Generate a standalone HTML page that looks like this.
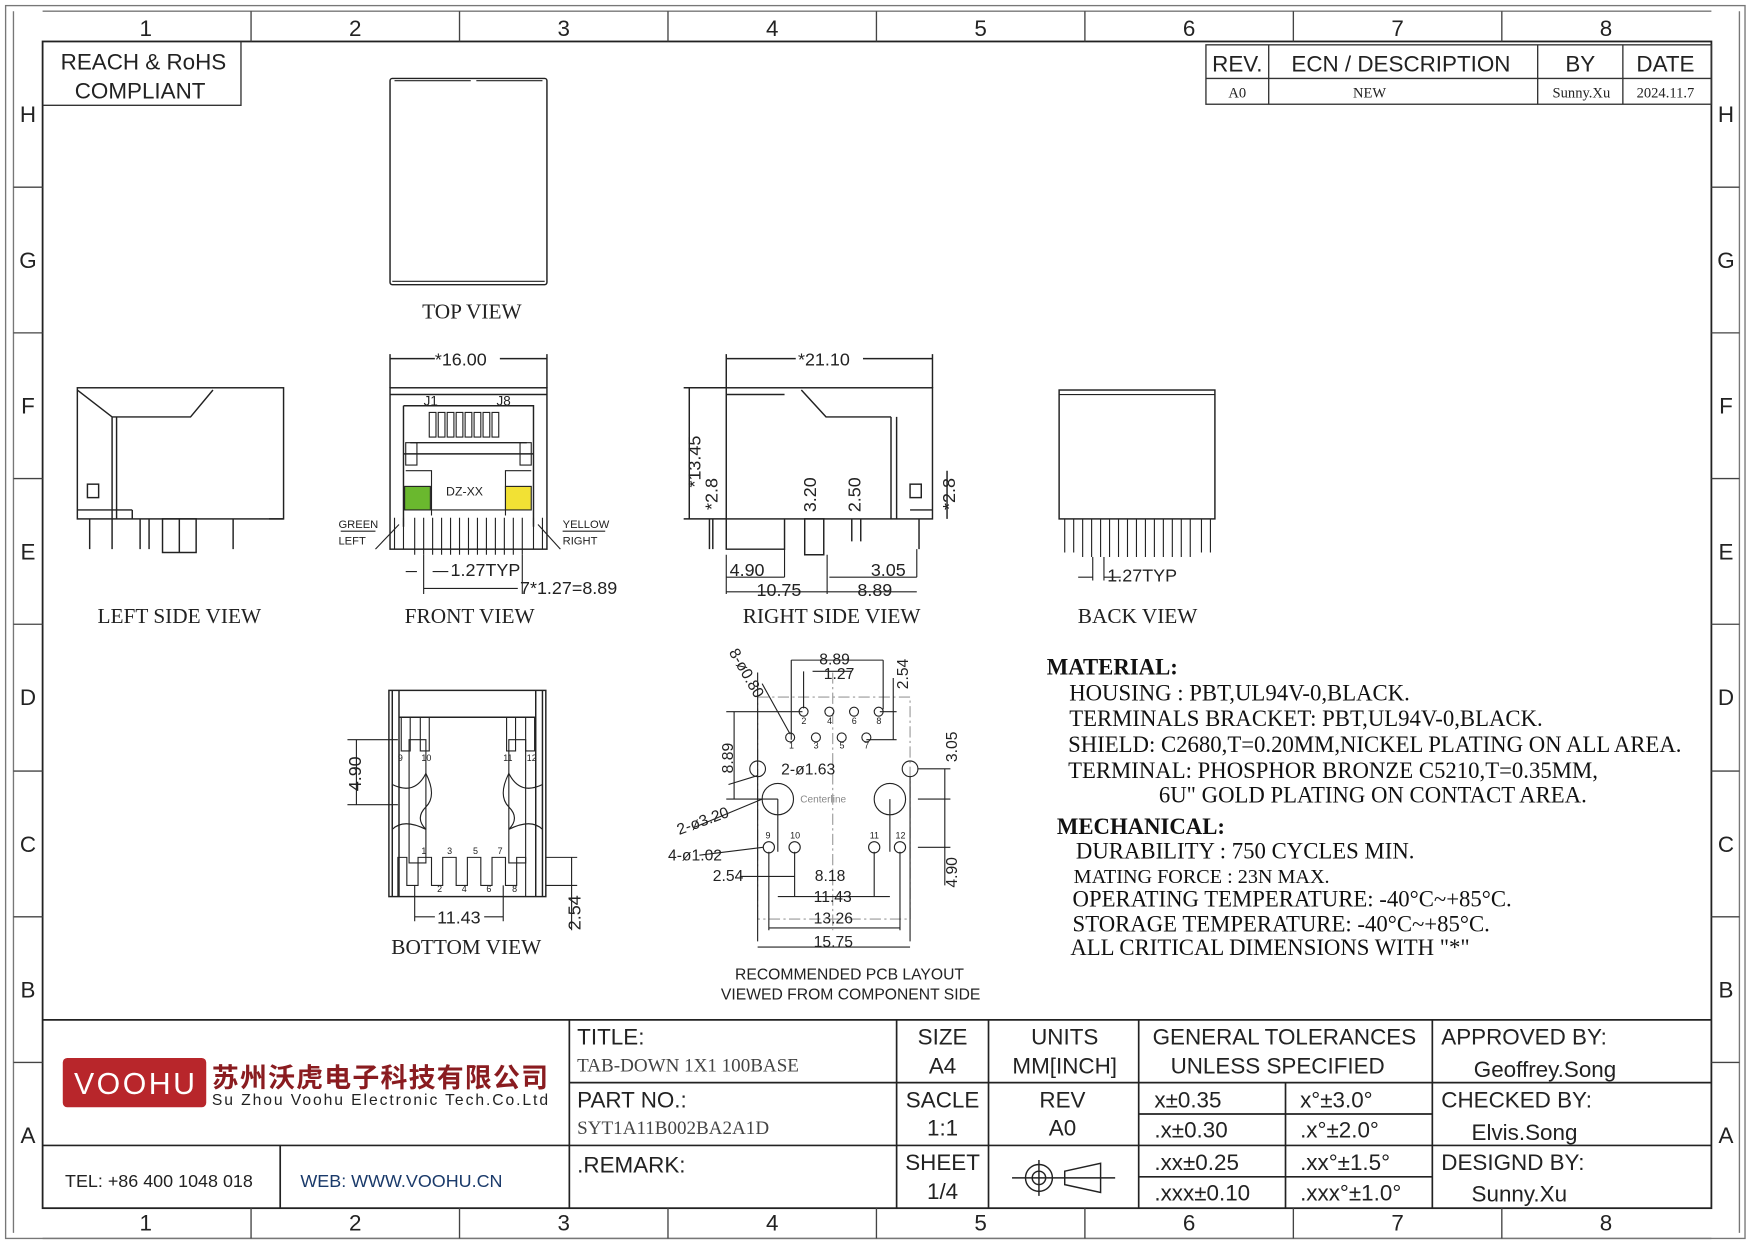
<!DOCTYPE html>
<html><head><meta charset="utf-8"><style>
html,body{margin:0;padding:0;background:#fff}
svg{display:block}
.s{font-family:"Liberation Sans",sans-serif}
.r{font-family:"Liberation Serif",serif}
.c{font-family:"Liberation Sans","Noto Sans CJK SC",sans-serif}
</style></head><body>
<svg width="1754" height="1240" viewBox="0 0 1565 1106.4" xmlns="http://www.w3.org/2000/svg">
<g fill="none" stroke="#333" stroke-width="1.2">
<rect x="5" y="5" width="1552" height="1100" stroke="#777"/>
<rect x="38" y="37" width="1489" height="1041" stroke-width="1.6" stroke="#222"/>
<line x1="38" y1="10" x2="1527" y2="10" stroke="#777"/>
<line x1="12" y1="10" x2="12" y2="1100" stroke="#777"/>
<line x1="1552" y1="10" x2="1552" y2="1100" stroke="#777"/>
<line x1="38" y1="1105" x2="1527" y2="1105" stroke="#777"/>
<g stroke="#444">
<line x1="224" y1="10" x2="224" y2="37"/><line x1="410" y1="10" x2="410" y2="37"/><line x1="596" y1="10" x2="596" y2="37"/><line x1="782" y1="10" x2="782" y2="37"/><line x1="968" y1="10" x2="968" y2="37"/><line x1="1154" y1="10" x2="1154" y2="37"/><line x1="1340" y1="10" x2="1340" y2="37"/>
<line x1="224" y1="1078" x2="224" y2="1105"/><line x1="410" y1="1078" x2="410" y2="1105"/><line x1="596" y1="1078" x2="596" y2="1105"/><line x1="782" y1="1078" x2="782" y2="1105"/><line x1="968" y1="1078" x2="968" y2="1105"/><line x1="1154" y1="1078" x2="1154" y2="1105"/><line x1="1340" y1="1078" x2="1340" y2="1105"/>
<path d="M12 167H38M12 297H38M12 427H38M12 557H38M12 688H38M12 818H38M12 948H38M1527 167H1552M1527 297H1552M1527 427H1552M1527 557H1552M1527 688H1552M1527 818H1552M1527 948H1552"/>
</g>
<path d="M215 37V94H38"/>
<rect x="1076" y="40" width="451" height="53"/>
<path d="M1076 70H1527M1132 40V93M1372 40V93M1448 40V93"/>
<path d="M38 910H1527M508 966H1527M38 1022H1527M508 910V1078M800 910V1078M882 910V1078M1016 910V1078M1278 910V1078M1147 966V1078M1016 994H1278M1016 1050H1278M250 1022V1078" stroke-width="1.5" stroke="#222"/>
</g>
<g class="s" font-size="20" fill="#222" text-anchor="middle">
<text x="130" y="32">1</text><text x="317" y="32">2</text><text x="503" y="32">3</text><text x="689" y="32">4</text><text x="875" y="32">5</text><text x="1061" y="32">6</text><text x="1247" y="32">7</text><text x="1433" y="32">8</text>
<text x="130" y="1098">1</text><text x="317" y="1098">2</text><text x="503" y="1098">3</text><text x="689" y="1098">4</text><text x="875" y="1098">5</text><text x="1061" y="1098">6</text><text x="1247" y="1098">7</text><text x="1433" y="1098">8</text>
<text x="25" y="109">H</text><text x="25" y="239">G</text><text x="25" y="369">F</text><text x="25" y="499">E</text><text x="25" y="629">D</text><text x="25" y="760">C</text><text x="25" y="890">B</text><text x="25" y="1020">A</text>
<text x="1540" y="109">H</text><text x="1540" y="239">G</text><text x="1540" y="369">F</text><text x="1540" y="499">E</text><text x="1540" y="629">D</text><text x="1540" y="760">C</text><text x="1540" y="890">B</text><text x="1540" y="1020">A</text>
<text x="128" y="62">REACH &amp; RoHS</text><text x="125" y="88">COMPLIANT</text>
<text x="1104" y="64">REV.</text><text x="1250" y="64">ECN / DESCRIPTION</text><text x="1410" y="64">BY</text><text x="1486" y="64">DATE</text>
</g>
<g class="r" font-size="13" fill="#222" text-anchor="middle">
<text x="1104" y="87">A0</text><text x="1222" y="87">NEW</text><text x="1411" y="87">Sunny.Xu</text><text x="1486" y="87">2024.11.7</text>
</g>
<g class="s" font-size="20" fill="#222">
<text x="515" y="932">TITLE:</text>
<text x="515" y="988">PART NO.:</text>
<text x="515" y="1046">.REMARK:</text>
<g text-anchor="middle">
<text x="841" y="932">SIZE</text><text x="841" y="958">A4</text>
<text x="841" y="988">SACLE</text><text x="841" y="1013">1:1</text>
<text x="841" y="1044">SHEET</text><text x="841" y="1070">1/4</text>
<text x="950" y="932">UNITS</text><text x="950" y="958">MM[INCH]</text>
<text x="948" y="988">REV</text><text x="948" y="1013">A0</text>
<text x="1146" y="932">GENERAL TOLERANCES</text><text x="1140" y="958">UNLESS SPECIFIED</text>
</g>
<text x="1030" y="988">x±0.35</text><text x="1160" y="988">x°±3.0°</text>
<text x="1030" y="1015">.x±0.30</text><text x="1160" y="1015">.x°±2.0°</text>
<text x="1030" y="1044">.xx±0.25</text><text x="1160" y="1044">.xx°±1.5°</text>
<text x="1030" y="1071">.xxx±0.10</text><text x="1160" y="1071">.xxx°±1.0°</text>
<text x="1286" y="932">APPROVED BY:</text><text x="1315" y="961">Geoffrey.Song</text>
<text x="1286" y="988">CHECKED BY:</text><text x="1313" y="1017">Elvis.Song</text>
<text x="1286" y="1044">DESIGND BY:</text><text x="1313" y="1072">Sunny.Xu</text>
</g>
<g class="r" font-size="17" fill="#444"><text x="515" y="956">TAB-DOWN 1X1 100BASE</text><text x="515" y="1012">SYT1A11B002BA2A1D</text></g>
<g class="s" font-size="16"><text x="58" y="1059" fill="#222">TEL: +86 400 1048 018</text><text x="268" y="1059" fill="#1a3a6a">WEB: WWW.VOOHU.CN</text></g>
<rect x="56" y="944" width="128" height="44" rx="4" fill="#b8262b"/>
<text x="120" y="976" class="s" font-size="27" fill="#fff" text-anchor="middle" textLength="108">VOOHU</text>
<text x="189" y="970" class="c" font-size="24" font-weight="bold" fill="#8a1c20" textLength="300">苏州沃虎电子科技有限公司</text>
<text x="189" y="986" class="s" font-size="14" fill="#222" textLength="300">Su Zhou Voohu Electronic Tech.Co.Ltd</text>
<g fill="none" stroke="#222" stroke-width="1.3"><circle cx="927" cy="1051" r="12"/><circle cx="927" cy="1051" r="6"/><path d="M903 1051H995M927 1035V1067M950 1045L982 1038V1064L950 1057Z"/></g>

<g fill="none" stroke="#222" stroke-width="1.3">
<rect x="348" y="70" width="140" height="184" rx="2"/>
<path d="M352 72H420M425 72H484M350 251H486" stroke-width="1"/>
<rect x="69" y="346" width="184" height="117"/>
<path d="M69 348L100 372H170L190 348M100 372V463M104 372V463M69 455H118M118 455V463"/>
<rect x="78" y="432" width="10" height="12"/>
<path d="M80 463V490M100 463V490M125 463V490M133 463V490M208 463V490M145 463H175V493H145ZM160 463V493M240 463H253"/>
<path d="M348 316V346M488 316V346M348 320H388M446 320H488"/>
<rect x="348" y="346" width="140" height="144"/>
<path d="M348 352H488M360 362H476V470M360 362V470M360 405H476M366 395H470"/>
<g stroke-width="1"><path d="M383 368h6v22h-6zM391 368h6v22h-6zM399 368h6v22h-6zM407 368h6v22h-6zM415 368h6v22h-6zM423 368h6v22h-6zM431 368h6v22h-6zM439 368h6v22h-6z"/>
<path d="M362 395h10v20h-10zM464 395h10v20h-10zM362 420H385V460M474 420H451V460M385 455H451"/>
<path d="M352 462V490M360 462V490M370 462V495M378 462V495M386 462V495M394 462V495M402 462V495M410 462V495M418 462V495M426 462V495M434 462V495M442 462V495M450 462V495M458 462V495M466 462V495M476 462V490M484 462V490"/>
<path d="M356 468L335 490M480 468L500 490M304 474H335M502 474H540"/>
<path d="M378 495V530M466 495V530M386 510H400M378 525H462M362 510H372"/></g>
<path d="M648 316V346M832 316V346M648 320H710M770 320H832"/>
<rect x="648" y="346" width="184" height="117"/>
<path d="M648 352H700M715 348L737 372H795M795 372V463M800 372V463M812 455H832"/>
<rect x="812" y="432" width="10" height="12"/>
<path d="M648 463V490H700V463M718 463H735V495H718ZM760 463V483M768 463V483M820 463V490M610 346H648M610 463H648M615 346V463M633 463V490M636 463V490M845 420V463"/>
<path d="M648 495V530M700 490V515M738 495V530M818 490V515M648 515H700M740 515H818M648 528H740M740 528H818" stroke-width="1"/>
<rect x="945" y="348" width="139" height="115"/>
<path d="M945 352H1084M950 463V493M958 463V493M966 463V497M974 463V497M982 463V497M990 463V497M998 463V497M1006 463V497M1014 463V497M1022 463V497M1030 463V497M1038 463V497M1046 463V497M1054 463V497M1062 463V497M1072 463V493M1080 463V493M962 515H975M985 515H1000M975 497V518M985 497V518" stroke-width="1"/>
<rect x="347" y="616" width="140" height="184"/>
<path d="M350 616V800M484 616V800M356 640H478M356 616V800M478 616V800"/>
<path d="M358 640V670h8V640M375 640V670h8V640M452 640V670h8V640M469 640V670h8V640" stroke-width="1"/>
<path d="M365 660H380V770H365ZM454 660H469V770H454Z" stroke-width="1"/>
<path d="M350 700Q370 710 380 690Q390 710 380 720Q370 730 380 740Q360 730 350 740ZM484 700Q464 710 454 690Q444 710 454 720Q464 730 454 740Q474 730 484 740Z" stroke-width="1"/>
<path d="M355 800V765h8V790h10V765h12V790h10V765h12V790h10V765h12V790h10V765h12V790h10V765h8V800" stroke-width="1"/>
<path d="M310 660H355M310 718H355M318 660V718M487 765H515M487 790H515M510 765V830M370 790V822M449 790V822M370 818H388M432 818H449" stroke-width="1"/>
<rect x="676" y="622" width="136" height="198" stroke="#999" stroke-dasharray="10 3 2 3" stroke-width="1"/>
<line x1="743" y1="600" x2="743" y2="830" stroke="#999" stroke-dasharray="10 3 2 3" stroke-width="1"/>
<g stroke-width="1"><circle cx="705" cy="658" r="4"/><circle cx="717" cy="635" r="4"/><circle cx="728" cy="658" r="4"/><circle cx="740" cy="635" r="4"/><circle cx="751" cy="658" r="4"/><circle cx="762" cy="635" r="4"/><circle cx="773" cy="658" r="4"/><circle cx="784" cy="635" r="4"/>
<circle cx="676" cy="686" r="7"/><circle cx="812" cy="686" r="7"/>
<circle cx="694" cy="713" r="14"/><circle cx="794" cy="713" r="14"/>
<circle cx="686" cy="756" r="5"/><circle cx="709" cy="756" r="5"/><circle cx="780" cy="756" r="5"/><circle cx="803" cy="756" r="5"/>
<path d="M706 589H788M706 589V660M788 589V633M717 599V632M725 599H760M785 635H800M773 660H800M797 605V660M676 600V840M812 693V840M648 635H716M648 713H694M655 635V713M819 686H848M819 713H848M819 756H848M843 686V756M843 710V790M694 713V760M794 713V760M686 760V830M803 760V830M709 760V800M780 760V800M650 700L676 692M620 738L680 713M624 763L681 756M660 782H709M709 800H780M694 800H794M686 828H803M676 845H812M680 610L705 655"/></g>
</g>
<rect x="361" y="434" width="23" height="21" fill="#6ab82e" stroke="#222"/>
<rect x="451" y="434" width="23" height="21" fill="#f2e134" stroke="#222"/>
<g class="r" font-size="19" fill="#222" text-anchor="middle">
<text x="421" y="284">TOP VIEW</text><text x="160" y="556">LEFT SIDE VIEW</text><text x="419" y="556">FRONT VIEW</text><text x="742" y="556">RIGHT SIDE VIEW</text><text x="1015" y="556">BACK VIEW</text><text x="416" y="851">BOTTOM VIEW</text>
</g>
<g class="s" font-size="14" fill="#222">
<text x="388" y="326" font-size="16">*16.00</text><text x="712" y="326" font-size="16">*21.10</text>
<text x="378" y="362" font-size="12">J1</text><text x="443" y="362" font-size="12">J8</text><text x="398" y="442" font-size="11">DZ-XX</text>
<text x="302" y="471" font-size="10">GREEN</text><text x="302" y="486" font-size="10">LEFT</text><text x="502" y="471" font-size="10">YELLOW</text><text x="502" y="486" font-size="10">RIGHT</text>
<text x="402" y="514" font-size="16">1.27TYP</text><text x="464" y="530" font-size="16">7*1.27=8.89</text>
<text x="651" y="514" font-size="16">4.90</text><text x="777" y="514" font-size="16">3.05</text><text x="675" y="532" font-size="16">10.75</text><text x="765" y="532" font-size="16">8.89</text>
<text x="988" y="519" font-size="16">1.27TYP</text>
<text transform="translate(625,435) rotate(-90)" font-size="16">*13.45</text>
<text transform="translate(640,455) rotate(-90)" font-size="16">*2.8</text>
<text transform="translate(852,455) rotate(-90)" font-size="16">*2.8</text>
<text transform="translate(728,457) rotate(-90)" font-size="16">3.20</text>
<text transform="translate(768,457) rotate(-90)" font-size="16">2.50</text>
<text transform="translate(322,706) rotate(-90)" font-size="16">4.90</text>
<text transform="translate(518,830) rotate(-90)" font-size="16">2.54</text>
<text x="390" y="824" font-size="16">11.43</text>
<g font-size="8"><text x="355" y="679">9</text><text x="376" y="679">10</text><text x="449" y="679">11</text><text x="470" y="679">12</text><text x="376" y="762">1</text><text x="399" y="762">3</text><text x="422" y="762">5</text><text x="444" y="762">7</text><text x="390" y="796">2</text><text x="412" y="796">4</text><text x="434" y="796">6</text><text x="457" y="796">8</text>
<text x="715" y="646">2</text><text x="738" y="646">4</text><text x="760" y="646">6</text><text x="782" y="646">8</text><text x="704" y="668">1</text><text x="726" y="668">3</text><text x="749" y="668">5</text><text x="771" y="668">7</text>
<text x="683" y="748">9</text><text x="705" y="748">10</text><text x="776" y="748">11</text><text x="799" y="748">12</text></g>
<text x="731" y="593">8.89</text><text x="735" y="606">1.27</text>
<text transform="translate(650,582) rotate(60)">8-ø0.80</text>
<text transform="translate(810,615) rotate(-90)">2.54</text>
<text transform="translate(654,690) rotate(-90)">8.89</text>
<text transform="translate(854,680) rotate(-90)">3.05</text>
<text transform="translate(854,792) rotate(-90)">4.90</text>
<text x="697" y="691">2-ø1.63</text>
<text x="714" y="716" font-size="9" fill="#888">Centerline</text>
<text transform="translate(606,745) rotate(-20)">2-ø3.20</text>
<text x="596" y="768">4-ø1.02</text>
<text x="636" y="786">2.54</text><text x="727" y="786">8.18</text><text x="726" y="805">11.43</text><text x="726" y="824">13.26</text><text x="726" y="845">15.75</text>
<text x="758" y="874" text-anchor="middle">RECOMMENDED PCB LAYOUT</text><text x="759" y="892" text-anchor="middle">VIEWED FROM COMPONENT SIDE</text>
</g>
<g class="r" font-size="20.3" fill="#111">
<text x="934" y="602" font-weight="bold">MATERIAL:</text>
<text x="954" y="625">HOUSING : PBT,UL94V-0,BLACK.</text>
<text x="954" y="648">TERMINALS BRACKET: PBT,UL94V-0,BLACK.</text>
<text x="953" y="671">SHIELD: C2680,T=0.20MM,NICKEL PLATING ON ALL AREA.</text>
<text x="953" y="694">TERMINAL: PHOSPHOR BRONZE C5210,T=0.35MM,</text>
<text x="1034" y="716">6U" GOLD PLATING ON CONTACT AREA.</text>
<text x="943" y="744" font-weight="bold">MECHANICAL:</text>
<text x="960" y="766">DURABILITY : 750 CYCLES MIN.</text>
<text x="958" y="788" font-size="18">MATING FORCE : 23N MAX.</text>
<text x="957" y="809">OPERATING TEMPERATURE: -40°C~+85°C.</text>
<text x="957" y="831">STORAGE TEMPERATURE: -40°C~+85°C.</text>
<text x="955" y="852">ALL CRITICAL DIMENSIONS WITH "*"</text>
</g>
</svg>
</body></html>
